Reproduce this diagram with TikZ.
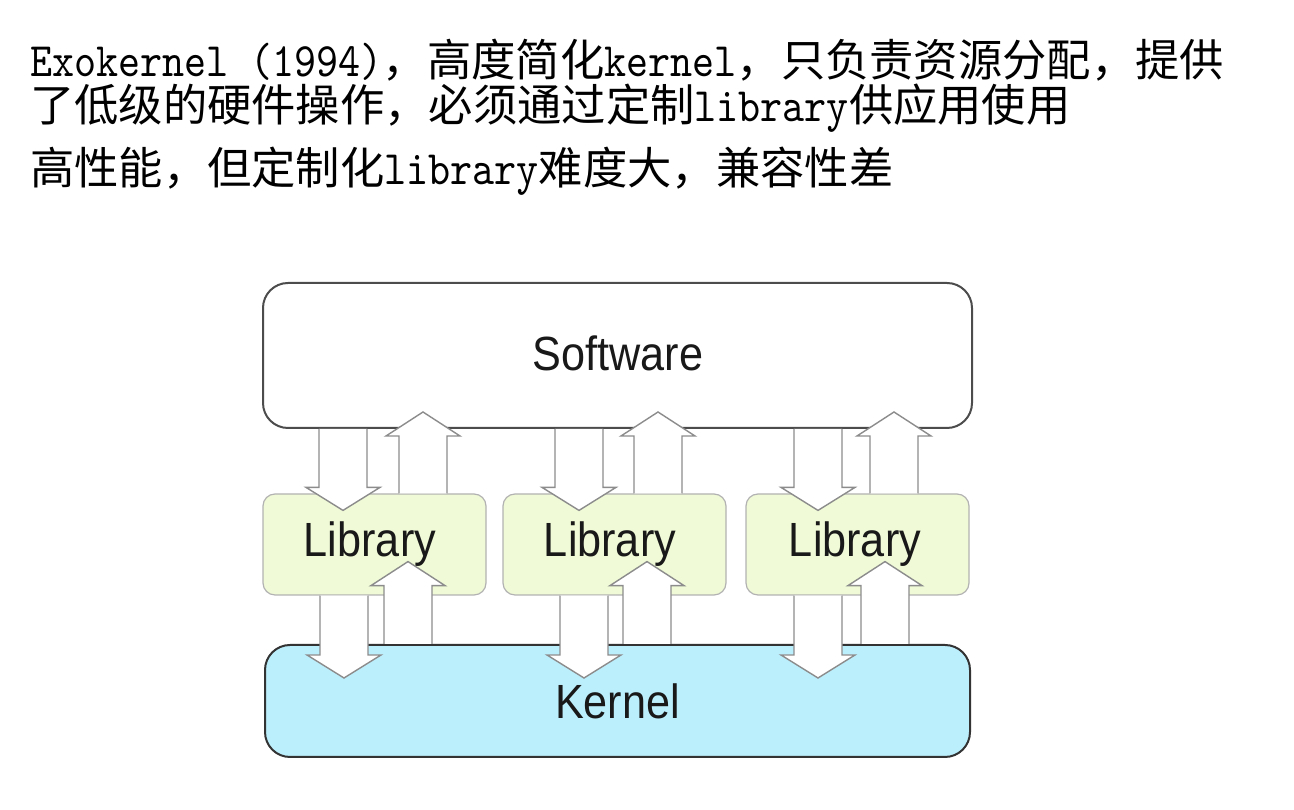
\documentclass[tikz,border=0pt]{standalone}
\usepackage{fontspec}
\setmainfont{Noto Sans CJK SC}
\newfontfamily\latfont{lmmono10-regular}[Extension=.otf, FakeStretch=0.875]
\newfontfamily\boxfont{Liberation Sans}[FakeStretch=0.9]
\newcommand{\lat}[1]{{\latfont\fontsize{48}{44}\selectfont #1}}
\definecolor{libfill}{RGB}{240,250,214}
\definecolor{kernfill}{RGB}{188,239,252}
\usetikzlibrary{calc}

% block arrows: centre x, from node, to node, shift of the head base
\newcommand{\arrdown}[4]{%
  \draw[fatarrow] let \p1=(#2.south), \p2=(#3.north) in
    (#1pt-24pt,\y1) -- (#1pt-24pt,\y2+#4) -- (#1pt-37pt,\y2+#4) -- (#1pt,\y2+#4-23pt)
    -- (#1pt+37pt,\y2+#4) -- (#1pt+24pt,\y2+#4) -- (#1pt+24pt,\y1);}
\newcommand{\arrup}[4]{%
  \draw[fatarrow] let \p1=(#2.north), \p2=(#3.south) in
    (#1pt-24pt,\y1) -- (#1pt-24pt,\y2+#4) -- (#1pt-37pt,\y2+#4) -- (#1pt,\y2+#4+24pt)
    -- (#1pt+37pt,\y2+#4) -- (#1pt+24pt,\y2+#4) -- (#1pt+24pt,\y1);}

\begin{document}
\begin{tikzpicture}[x=1pt, y=1pt,
    headline/.style={anchor=base west, inner sep=0pt, text=black, font=\fontsize{44.3}{44}\selectfont},
    layer/.style={draw=black!70, line width=2pt, rounded corners=25pt},
    libbox/.style={draw=black!30, line width=1.2pt, rounded corners=12pt, fill=libfill,
        minimum width=223pt, minimum height=101pt},
    boxlabel/.style={text=black!90, font=\boxfont\fontsize{48}{48}\selectfont},
    fatarrow/.style={draw=black!45, fill=white, line width=1.4pt}]

    \useasboundingbox (0,0) rectangle (1294,810);

    \node[headline] (t1) at (30,733) {\lat{Exokernel (1994)}，高度简化\lat{kernel}，只负责资源分配，提供};
    \node[headline] (t2) at (30,688) {了低级的硬件操作，必须通过定制\lat{library}供应用使用};
    \node[headline] (t3) at (30,625) {高性能，但定制化\lat{library}难度大，兼容性差};

    \node[layer, fill=white, minimum width=709pt, minimum height=145pt] (sw) at (617.5,454.5) {};
    \node[libbox] (lib1) at (374.5,265.5) {};
    \node[libbox] (lib2) at (614.5,265.5) {};
    \node[libbox] (lib3) at (857.5,265.5) {};
    \node[layer, draw=black!80, fill=kernfill, minimum width=705pt, minimum height=112pt] (kern) at (617.5,109) {};

    \arrdown{343}{sw}{lib1}{6pt}
    \arrup{423}{lib1}{sw}{-7pt}
    \arrdown{344}{lib1}{kern}{-11pt}
    \arrup{408}{kern}{lib1}{10pt}

    \arrdown{579}{sw}{lib2}{6pt}
    \arrup{658}{lib2}{sw}{-7pt}
    \arrdown{584}{lib2}{kern}{-11pt}
    \arrup{647}{kern}{lib2}{10pt}

    \arrdown{818}{sw}{lib3}{6pt}
    \arrup{894}{lib3}{sw}{-7pt}
    \arrdown{818}{lib3}{kern}{-11pt}
    \arrup{885}{kern}{lib3}{10pt}

    \node[boxlabel] (swt) at (618,457) {Software};
    \node[boxlabel] (lib1t) at (370,265.5) {Library};
    \node[boxlabel] (lib2t) at (610,265.5) {Library};
    \node[boxlabel] (lib3t) at (855,265.5) {Library};
    \node[boxlabel] (kernt) at (kern) {Kernel};

\end{tikzpicture}
\end{document}
